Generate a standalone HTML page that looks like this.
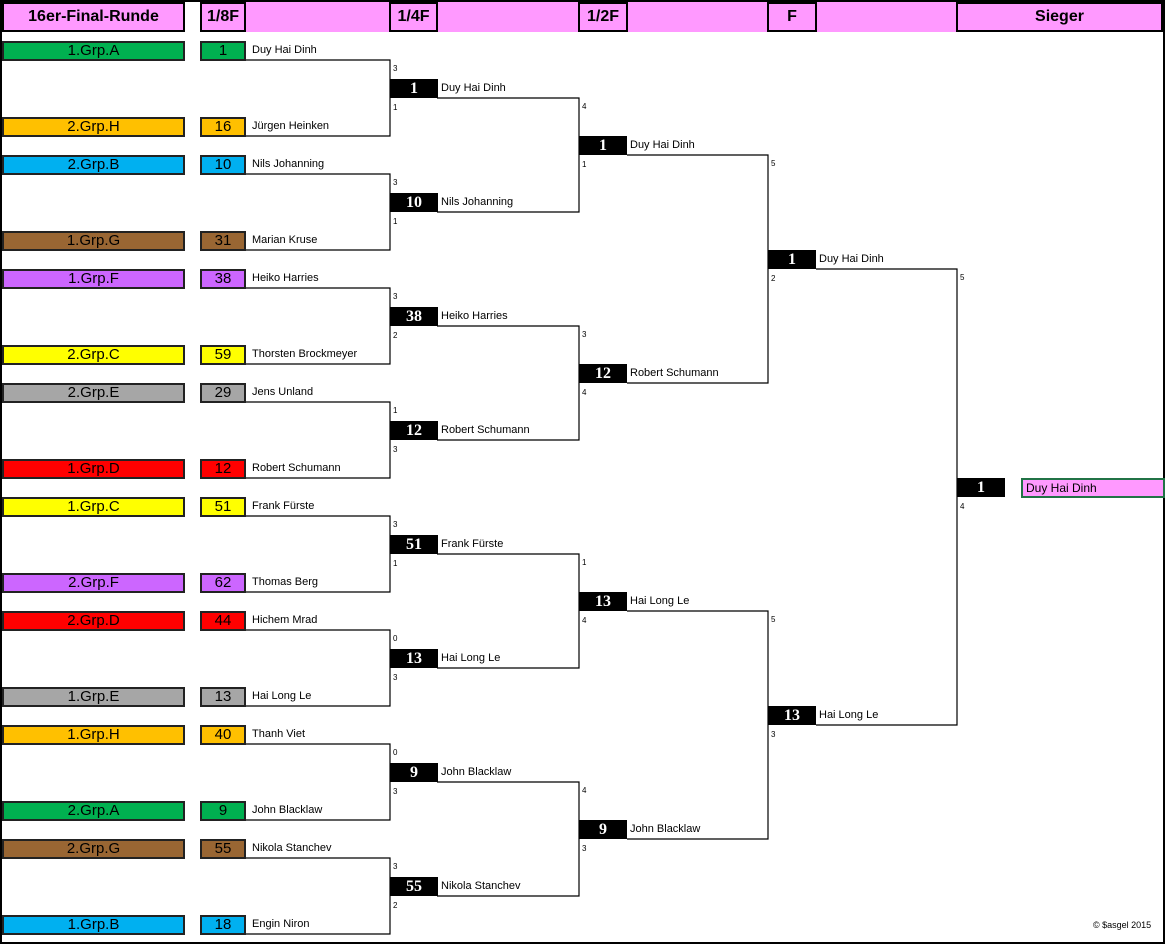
<!DOCTYPE html>
<html><head><meta charset="utf-8"><style>
body{margin:0;width:1167px;height:946px;position:relative;background:#fff;font-family:"Liberation Sans",sans-serif;overflow:hidden}
.a{position:absolute;box-sizing:border-box}
.h{background:#ff99ff;border:2px solid #000;font-weight:bold;font-size:16px;text-align:center;line-height:25px;height:30px;top:2px}
.g{border:2px solid #222;height:20px;font-size:15px;text-align:center;line-height:16px}
.n{font-size:11px;line-height:19px;height:19px}
.b{background:#000;color:#fff;font-family:"Liberation Serif",serif;font-weight:bold;font-size:16px;text-align:center;height:19px;line-height:19px;width:48px}
.s{font-size:8px}
</style></head><body>
<div class="a" style="left:0;top:0;width:1165px;height:944px;border:2px solid #000"></div>
<div class="a" style="left:184px;top:2px;width:979px;height:30px;background:#ff99ff"></div>
<div class="a" style="left:184px;top:2px;width:17px;height:30px;background:#fff"></div>
<div class="a h" style="left:2px;width:183px">16er-Final-Runde</div>
<div class="a h" style="left:200px;width:46px">1/8F</div>
<div class="a h" style="left:389px;width:49px">1/4F</div>
<div class="a h" style="left:578px;width:50px">1/2F</div>
<div class="a h" style="left:767px;width:50px">F</div>
<div class="a h" style="left:956px;width:207px">Sieger</div>
<svg class="a" style="left:0;top:0" width="1167" height="946" id="sv"></svg>
<div id="c"></div>
<div class="a" style="left:1093px;top:920px;font-size:9px">© $asgel 2015</div>
<script>
var E=[["1.Grp.A","#00b050",1,"Duy Hai Dinh"],["2.Grp.H","#ffc000",16,"Jürgen Heinken"],["2.Grp.B","#00b0f0",10,"Nils Johanning"],["1.Grp.G","#996633",31,"Marian Kruse"],["1.Grp.F","#cc66ff",38,"Heiko Harries"],["2.Grp.C","#ffff00",59,"Thorsten Brockmeyer"],["2.Grp.E","#a6a6a6",29,"Jens Unland"],["1.Grp.D","#ff0000",12,"Robert Schumann"],["1.Grp.C","#ffff00",51,"Frank Fürste"],["2.Grp.F","#cc66ff",62,"Thomas Berg"],["2.Grp.D","#ff0000",44,"Hichem Mrad"],["1.Grp.E","#a6a6a6",13,"Hai Long Le"],["1.Grp.H","#ffc000",40,"Thanh Viet"],["2.Grp.A","#00b050",9,"John Blacklaw"],["2.Grp.G","#996633",55,"Nikola Stanchev"],["1.Grp.B","#00b0f0",18,"Engin Niron"]];
var R=[[[1,"Duy Hai Dinh"],[10,"Nils Johanning"],[38,"Heiko Harries"],[12,"Robert Schumann"],[51,"Frank Fürste"],[13,"Hai Long Le"],[9,"John Blacklaw"],[55,"Nikola Stanchev"]],[[1,"Duy Hai Dinh"],[12,"Robert Schumann"],[13,"Hai Long Le"],[9,"John Blacklaw"]],[[1,"Duy Hai Dinh"],[13,"Hai Long Le"]],[[1,""]]];
var S=[[[3,1],[3,1],[3,2],[1,3],[3,1],[0,3],[0,3],[3,2]],[[4,1],[3,4],[1,4],[4,3]],[[5,2],[5,3]],[[5,4]]];
var X=[390,579,768,957],XS=[245,437,627,816];
var h="",sv="";
var ys=[];
for(var i=0;i<16;i++){var t=41+114*Math.floor(i/2)+76*(i%2);var e=E[i];
h+='<div class="a g" style="left:2px;top:'+t+'px;width:183px;background:'+e[1]+'">'+e[0]+'</div>';
h+='<div class="a g" style="left:200px;top:'+t+'px;width:46px;background:'+e[1]+'">'+e[2]+'</div>';
h+='<div class="a n" style="left:252px;top:'+(t)+'px">'+e[3]+'</div>';ys.push(t+19);}
for(var r=0;r<4;r++){var ny=[];for(var k=0;k<ys.length/2;k++){var y1=ys[2*k],y2=ys[2*k+1],m=(y1+y2)/2;
sv+='<polyline points="'+XS[r]+','+y1+' '+X[r]+','+y1+' '+X[r]+','+y2+' '+XS[r]+','+y2+'" fill="none" stroke="#000" stroke-width="1.2"/>';
h+='<div class="a b" style="left:'+X[r]+'px;top:'+(m-19)+'px">'+R[r][k][0]+'</div>';
if(R[r][k][1])h+='<div class="a n" style="left:'+(X[r]+51)+'px;top:'+(m-19)+'px">'+R[r][k][1]+'</div>';
h+='<div class="a s" style="left:'+(X[r]+3)+'px;top:'+(y1+4)+'px">'+S[r][k][0]+'</div>';
h+='<div class="a s" style="left:'+(X[r]+3)+'px;top:'+(m+5)+'px">'+S[r][k][1]+'</div>';
ny.push(m);}ys=ny;}
h+='<div class="a n" style="left:1021px;top:478px;width:144px;height:20px;background:#ff99ff;border:2px solid #217346;padding-left:3px;line-height:16px;font-size:12px">Duy Hai Dinh</div>';
document.getElementById("c").innerHTML=h;document.getElementById("sv").innerHTML=sv;
</script>
</body></html>
